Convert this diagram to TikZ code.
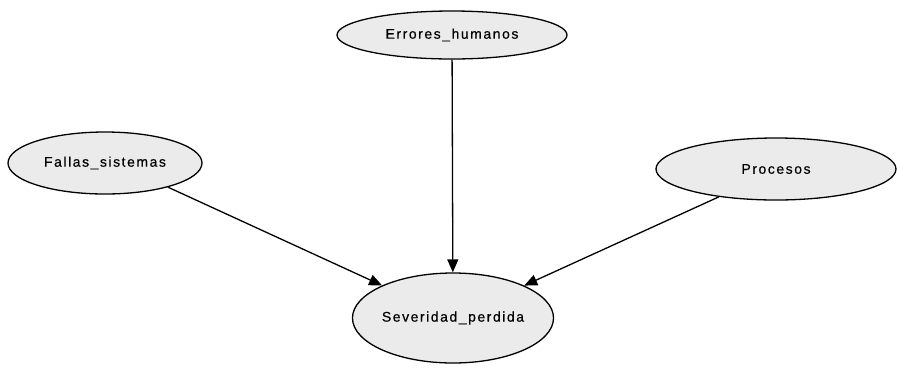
\documentclass[tikz,border=0pt]{standalone}
\usepackage{fontspec}
\setmainfont{Liberation Sans}[LetterSpace=11,FakeBold=0.4]
\usetikzlibrary{shapes.geometric,arrows.meta}
\definecolor{nodefill}{HTML}{EBEBEB}
\begin{document}
\begin{tikzpicture}[x=1pt,y=-1pt,
  var/.style={ellipse,draw=black,line width=1.3pt,fill=nodefill,inner sep=0pt,
              font=\fontsize{14}{16}\selectfont},
  link/.style={line width=1.3pt,-{Triangle[length=13pt,width=11pt]}}]
  \useasboundingbox (0,0) rectangle (897,368);
  \node[var,minimum width=230pt,minimum height=48pt] (err) at (452,35) {Errores\_humanos};
  \node[var,minimum width=194pt,minimum height=62pt] (fal) at (105,163) {Fallas\_sistemas};
  \node[var,minimum width=240pt,minimum height=62pt] (pro) at (776,169) {Procesos};
  \node[var,minimum width=192pt,minimum height=90pt] (sev) at (453,318) {Severidad\_perdida};
  \draw[link] (err) -- (sev);
  \draw[link] (fal.-21) -- (sev);
  \draw[link] (pro.206) -- (sev);
\end{tikzpicture}
\end{document}
